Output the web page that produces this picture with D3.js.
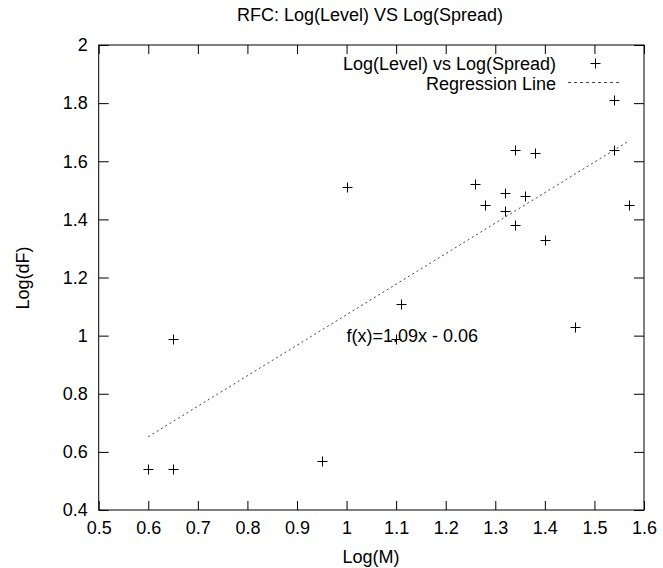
<!DOCTYPE html>
<html>
<head>
<meta charset="utf-8">
<script src="https://cdn.jsdelivr.net/npm/d3@7"></script>
<style>
body { margin: 0; background: #fff; }
svg { display: block; }
text { font-family: "Liberation Sans", Arial, sans-serif; font-size: 18px; fill: #000; }
.axis path { display: none; }
.axis line { stroke: #000; }
</style>
</head>
<body>
<svg width="663" height="568"></svg>
<script>
// data
var logM  = [0.60, 0.65, 0.65, 0.95, 1.00, 1.10, 1.11, 1.26, 1.28, 1.32, 1.32, 1.34, 1.34, 1.36, 1.38, 1.40, 1.46, 1.54, 1.54, 1.57];
var logDF = [0.54, 0.54, 0.99, 0.57, 1.51, 0.99, 1.11, 1.52, 1.45, 1.49, 1.43, 1.64, 1.38, 1.48, 1.63, 1.33, 1.03, 1.81, 1.64, 1.45];
var xTicks = [0.5, 0.6, 0.7, 0.8, 0.9, 1, 1.1, 1.2, 1.3, 1.4, 1.5, 1.6];
var yTicks = [0.4, 0.6, 0.8, 1, 1.2, 1.4, 1.6, 1.8, 2];
var regSlope = 1.05, regIntercept = 0.022;
var fitLabel = "f(x)=1.09x - 0.06";

var svg = d3.select("svg"),
    width = +svg.attr("width"),
    height = +svg.attr("height");

var margin = {top: 45, right: 19, bottom: 58, left: 98.7};
var x0 = margin.left, x1 = width - margin.right,
    y0 = height - margin.bottom, y1 = margin.top;

var x = d3.scaleLinear().domain([0.5, 1.6]).range([x0, x1]);
var y = d3.scaleLinear().domain([0.4, 2]).range([y0, y1]);

var fmt = function(d) { return String(d); };

// axes, ticks pointing inward, mirrored on top/right
svg.append("g").attr("class", "axis")
  .attr("transform", "translate(0," + y0 + ")")
  .call(d3.axisBottom(x).tickValues(xTicks).tickFormat(fmt).tickSizeInner(-9).tickSizeOuter(0).tickPadding(11));

svg.append("g").attr("class", "axis")
  .attr("transform", "translate(0," + y1 + ")")
  .call(d3.axisTop(x).tickValues(xTicks).tickFormat("").tickSizeInner(-9).tickSizeOuter(0));

svg.append("g").attr("class", "axis")
  .attr("transform", "translate(" + x0 + ",0)")
  .call(d3.axisLeft(y).tickValues(yTicks).tickFormat(fmt).tickSizeInner(-10).tickSizeOuter(0).tickPadding(11));

svg.append("g").attr("class", "axis")
  .attr("transform", "translate(" + x1 + ",0)")
  .call(d3.axisRight(y).tickValues(yTicks).tickFormat("").tickSizeInner(-10).tickSizeOuter(0));

svg.selectAll(".axis text").style("font-size", "18px").style("font-family", "'Liberation Sans', Arial, sans-serif");

// border
svg.append("rect")
  .attr("x", x0).attr("y", y1)
  .attr("width", x1 - x0).attr("height", y0 - y1)
  .attr("fill", "none").attr("stroke", "#000");

// regression line
var xr = d3.extent(logM);
svg.append("line")
  .attr("x1", x(xr[0])).attr("y1", y(regSlope * xr[0] + regIntercept))
  .attr("x2", x(xr[1])).attr("y2", y(regSlope * xr[1] + regIntercept))
  .attr("stroke", "#444").attr("stroke-width", 1).attr("stroke-dasharray", "2,3");

// points as plus marks
var pts = d3.zip(logM, logDF);
svg.selectAll(".pt")
  .data(pts)
  .enter().append("path")
  .attr("class", "pt")
  .attr("d", function(d) {
    var px = Math.round(x(d[0])) + 0.5, py = Math.round(y(d[1])) + 0.5;
    return "M" + (px - 5) + "," + py + "H" + (px + 5) + "M" + px + "," + (py - 5) + "V" + (py + 5);
  })
  .attr("stroke", "#000").attr("fill", "none");

// fit label at data (1, 1)
svg.append("text")
  .attr("x", x(1)).attr("y", y(1))
  .attr("dy", "0.35em")
  .text(fitLabel);

// title and axis titles
svg.append("text")
  .attr("x", 370).attr("y", 21)
  .attr("text-anchor", "middle")
  .text("RFC: Log(Level) VS Log(Spread)");

svg.append("text")
  .attr("x", 371).attr("y", 563)
  .attr("text-anchor", "middle")
  .text("Log(M)");

svg.append("text")
  .attr("transform", "translate(29,278) rotate(-90)")
  .attr("text-anchor", "middle")
  .text("Log(dF)");

// legend
var legX = 556;
svg.append("text")
  .attr("x", legX).attr("y", 63.5).attr("dy", "0.35em")
  .attr("text-anchor", "end")
  .text("Log(Level) vs Log(Spread)");
svg.append("path")
  .attr("d", "M590.5,63.5H600.5M595.5,58.5V68.5")
  .attr("stroke", "#000");

svg.append("text")
  .attr("x", legX).attr("y", 83.5).attr("dy", "0.35em")
  .attr("text-anchor", "end")
  .text("Regression Line");
svg.append("line")
  .attr("x1", 568).attr("x2", 619)
  .attr("y1", 82.5).attr("y2", 82.5)
  .attr("stroke", "#444").attr("stroke-dasharray", "3,3");
</script>
</body>
</html>
